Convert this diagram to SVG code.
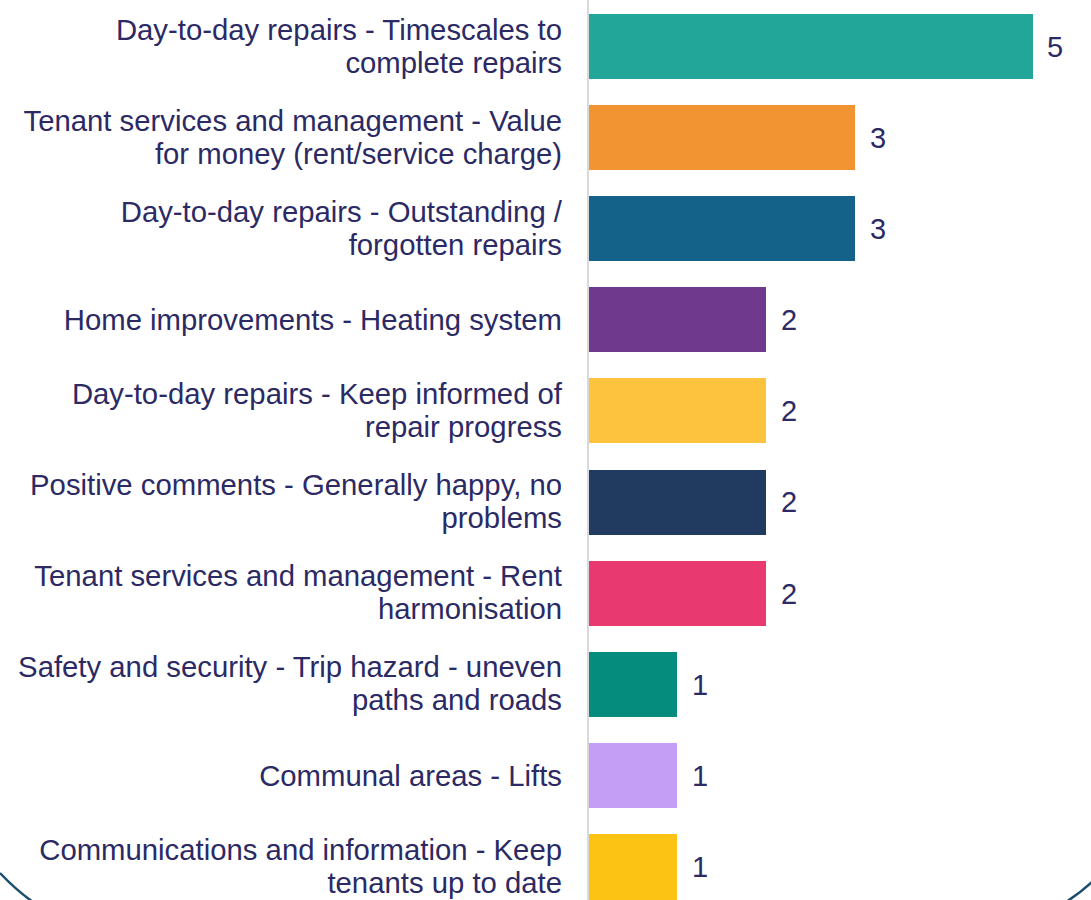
<svg xmlns="http://www.w3.org/2000/svg" width="1091" height="900" viewBox="0 0 1091 900">
<style>
.lbl{font-family:"Liberation Sans",Arial,sans-serif;font-size:29.3px;fill:#2b2a64;text-anchor:end}
.val{font-family:"Liberation Sans",Arial,sans-serif;font-size:29px;fill:#2b2a64}
.arc{fill:none;stroke:#1a4e6e;stroke-width:2.5}
</style>
<rect width="1091" height="900" fill="#ffffff"/>
<path class="arc" d="M0,873 Q16,890 33,902"/>
<path class="arc" d="M1066,902 Q1080,893 1093,881"/>
<line x1="588" y1="0" x2="588" y2="900" stroke="#d9d9d9" stroke-width="2"/>
<g id="bar1"><rect x="589" y="14" width="444" height="65" fill="#22a699"/>
<text class="lbl" x="562" y="40">Day-to-day repairs - Timescales to</text><text class="lbl" x="562" y="73">complete repairs</text>
<text class="val" x="1047" y="57">5</text></g>
<g id="bar2"><rect x="589" y="105" width="266" height="65" fill="#f29432"/>
<text class="lbl" x="562" y="131">Tenant services and management - Value</text><text class="lbl" x="562" y="164">for money (rent/service charge)</text>
<text class="val" x="870" y="148">3</text></g>
<g id="bar3"><rect x="589" y="196" width="266" height="65" fill="#14628a"/>
<text class="lbl" x="562" y="222">Day-to-day repairs - Outstanding /</text><text class="lbl" x="562" y="255">forgotten repairs</text>
<text class="val" x="870" y="239">3</text></g>
<g id="bar4"><rect x="589" y="287" width="177" height="65" fill="#6f3a8e"/>
<text class="lbl" x="562" y="330">Home improvements - Heating system</text>
<text class="val" x="781" y="330">2</text></g>
<g id="bar5"><rect x="589" y="378" width="177" height="65" fill="#fdc23e"/>
<text class="lbl" x="562" y="404">Day-to-day repairs - Keep informed of</text><text class="lbl" x="562" y="437">repair progress</text>
<text class="val" x="781" y="421">2</text></g>
<g id="bar6"><rect x="589" y="470" width="177" height="65" fill="#213a60"/>
<text class="lbl" x="562" y="495">Positive comments - Generally happy, no</text><text class="lbl" x="562" y="528">problems</text>
<text class="val" x="781" y="512">2</text></g>
<g id="bar7"><rect x="589" y="561" width="177" height="65" fill="#e83970"/>
<text class="lbl" x="562" y="586">Tenant services and management - Rent</text><text class="lbl" x="562" y="619">harmonisation</text>
<text class="val" x="781" y="604">2</text></g>
<g id="bar8"><rect x="589" y="652" width="88" height="65" fill="#068c7c"/>
<text class="lbl" x="562" y="677">Safety and security - Trip hazard - uneven</text><text class="lbl" x="562" y="710">paths and roads</text>
<text class="val" x="692" y="695">1</text></g>
<g id="bar9"><rect x="589" y="743" width="88" height="65" fill="#c49ef5"/>
<text class="lbl" x="562" y="786">Communal areas - Lifts</text>
<text class="val" x="692" y="786">1</text></g>
<g id="bar10"><rect x="589" y="834" width="88" height="66" fill="#fdc314"/>
<text class="lbl" x="562" y="860">Communications and information - Keep</text><text class="lbl" x="562" y="893">tenants up to date</text>
<text class="val" x="692" y="877">1</text></g>
</svg>
